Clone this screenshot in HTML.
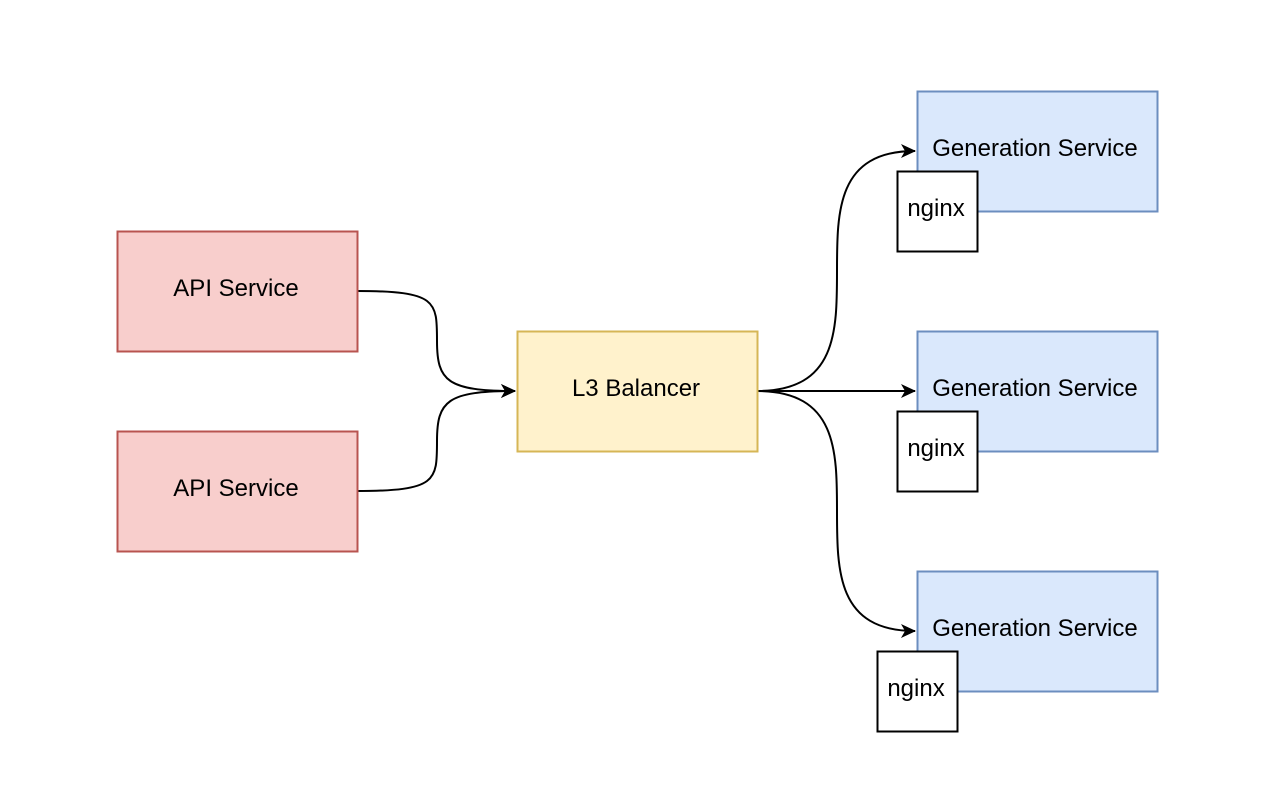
<!DOCTYPE html>
<html><head><meta charset="utf-8"><style>
html,body{margin:0;padding:0;background:#fff;}
svg{display:block;}
text{font-family:"Liberation Sans",Arial,sans-serif;font-size:24px;fill:#000;}
</style></head><body>
<svg width="1269" height="798" viewBox="0 0 1269 798" xmlns="http://www.w3.org/2000/svg">
<defs>
<marker id="a" markerWidth="16" markerHeight="16" refX="14" refY="8" orient="auto" markerUnits="userSpaceOnUse">
<path d="M0,1 L15,8 L0,15 L4,8 Z" fill="#000"/>
</marker>
</defs>
<g fill="none" stroke="#000" stroke-width="2">
<path d="M357 291 C437 291 437 301 437 341 C437 381 447 391 515 391" marker-end="url(#a)"/>
<path d="M357 491 C437 491 437 481 437 441 C437 401 447 391 515 391" marker-end="url(#a)"/>
<path d="M757 391 C837 391 837 331 837 271 C837 211 837 151 915 151" marker-end="url(#a)"/>
<path d="M757 391 L915 391" marker-end="url(#a)"/>
<path d="M757 391 C837 391 837 451 837 511 C837 571 837 631 915 631" marker-end="url(#a)"/>
</g>
<rect x="117.5" y="231.5" width="240" height="120" fill="#f8cecc" stroke="#b85450" stroke-width="2"/>
<rect x="117.5" y="431.5" width="240" height="120" fill="#f8cecc" stroke="#b85450" stroke-width="2"/>
<rect x="517.5" y="331.5" width="240" height="120" fill="#fff2cc" stroke="#d6b656" stroke-width="2"/>
<rect x="917.5" y="91.5" width="240" height="120" fill="#dae8fc" stroke="#6c8ebf" stroke-width="2"/>
<rect x="917.5" y="331.5" width="240" height="120" fill="#dae8fc" stroke="#6c8ebf" stroke-width="2"/>
<rect x="917.5" y="571.5" width="240" height="120" fill="#dae8fc" stroke="#6c8ebf" stroke-width="2"/>
<rect x="897.5" y="171.5" width="80" height="80" fill="#fff" stroke="#000" stroke-width="2"/>
<rect x="897.5" y="411.5" width="80" height="80" fill="#fff" stroke="#000" stroke-width="2"/>
<rect x="877.5" y="651.5" width="80" height="80" fill="#fff" stroke="#000" stroke-width="2"/>
<g text-anchor="middle">
<text x="236" y="296">API Service</text>
<text x="236" y="496">API Service</text>
<text x="636" y="396">L3 Balancer</text>
<text x="1035" y="156">Generation Service</text>
<text x="1035" y="396">Generation Service</text>
<text x="1035" y="636">Generation Service</text>
<text x="936" y="216">nginx</text>
<text x="936" y="456">nginx</text>
<text x="916" y="696">nginx</text>
</g>
</svg>
</body></html>
